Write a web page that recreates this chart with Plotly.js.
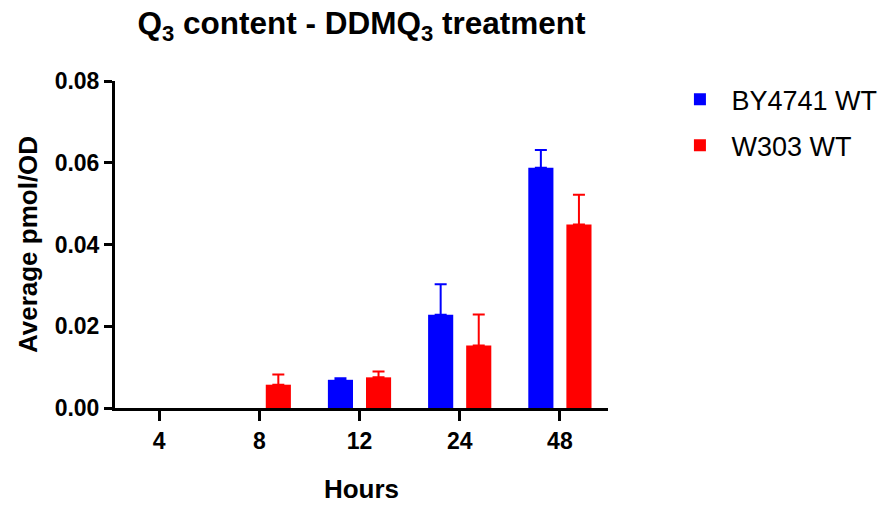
<!DOCTYPE html>
<html>
<head>
<meta charset="utf-8">
<script src="https://cdn.plot.ly/plotly-3.0.1.min.js"></script>
<style>html,body{margin:0;padding:0;background:#fff;}#chart{width:883px;height:508px;}</style>
</head>
<body>
<div id="chart"></div>
<script>
var hours = ["4", "8", "12", "24", "48"];
var seriesNames = ["BY4741 WT", "W303 WT"];
var by4741 = [0, 0, 0.0069, 0.0228, 0.0588];
var by4741Err = [null, null, 0.0004, 0.0075, 0.0043];
var w303 = [0, 0.0057, 0.0075, 0.0153, 0.0449];
var w303Err = [null, 0.0025, 0.0014, 0.0076, 0.0073];
var colors = ["#0000FF", "#FF0000"];

var font = "Arial, 'Liberation Sans', sans-serif";

function mk(name, y, err, color, grp) {
  return {
    type: "bar", name: name, x: hours, y: y, legendgroup: grp,
    marker: {color: color, line: {width: 0}},
    error_y: {type: "data", symmetric: false,
              array: err.map(function (e) { return e === null ? NaN : e; }),
              arrayminus: err.map(function (e) { return e === null ? NaN : 0; }),
              color: color, thickness: 2, width: 6}
  };
}

var data = [
  mk(seriesNames[0], by4741, by4741Err, colors[0], "g1"),
  mk(seriesNames[1], w303, w303Err, colors[1], "g2")
];

var layout = {
  width: 883, height: 508,
  margin: {l: 115, r: 275, t: 81, b: 100, autoexpand: false},
  paper_bgcolor: "#fff", plot_bgcolor: "#fff",
  font: {family: font, color: "#000"},
  barmode: "group", bargap: 0.24, bargroupgap: 0.34,
  showlegend: true,
  title: {text: "Q<sub>3</sub> content - DDMQ<sub>3</sub> treatment",
          font: {size: 31.5, weight: "bold", family: font, color: "#000"},
          x: 0.5, xref: "paper", xanchor: "center", y: 0.955, yref: "container", yanchor: "middle"},
  xaxis: {
    type: "category", range: [-0.44, 4.48],
    showline: true, linewidth: 3, linecolor: "#000",
    ticks: "outside", ticklen: 10, tickwidth: 3, tickcolor: "#000",
    tickfont: {size: 23, weight: "bold", family: font},
    showgrid: false, zeroline: false, fixedrange: true,
    title: {text: "Hours", font: {size: 26, weight: "bold", family: font}, standoff: 28}
  },
  yaxis: {
    range: [0, 0.08], tickvals: [0, 0.02, 0.04, 0.06, 0.08],
    ticktext: ["0.00", "0.02", "0.04", "0.06", "0.08"],
    showline: true, linewidth: 3, linecolor: "#000",
    ticks: "outside", ticklen: 8, tickwidth: 3, tickcolor: "#000",
    tickfont: {size: 23, weight: "bold", family: font},
    showgrid: false, zeroline: false, fixedrange: true,
    title: {text: "Average pmol/OD", font: {size: 26, weight: "bold", family: font}, standoff: 10}
  },
  legend: {
    xref: "container", yref: "container",
    x: 0.757, xanchor: "left", y: 0.852, yanchor: "top",
    font: {size: 27, family: font, color: "#000"},
    itemwidth: 53, tracegroupgap: 8, bgcolor: "rgba(0,0,0,0)"
  }
};

Plotly.newPlot("chart", data, layout, {displayModeBar: false, staticPlot: true});
</script>
</body>
</html>
